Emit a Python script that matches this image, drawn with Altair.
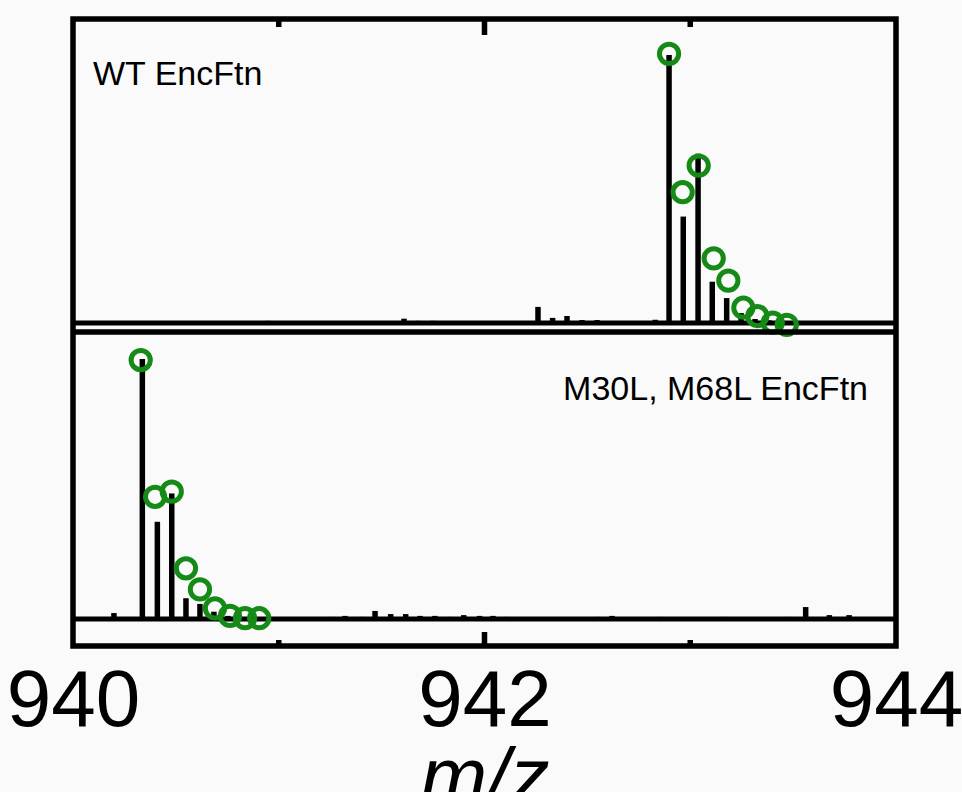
import altair as alt
import pandas as pd

# ---------------- data ----------------
MZ_MIN, MZ_MAX = 940.0, 944.0
label_values = [940, 942, 944]
major_ticks = [942]
minor_ticks = [941, 943]

wt_label = "WT EncFtn"
mut_label = "M30L, M68L EncFtn"
axis_title = "m/z"

# WT EncFtn spectrum (relative intensity, %)
wt_mz = [940.10, 940.25, 940.40, 940.55, 940.70, 940.948, 941.10, 941.25, 941.40,
         941.609, 941.677, 941.750, 941.85, 941.95, 942.05, 942.15, 942.260, 942.331,
         942.401, 942.474, 942.547, 942.624, 942.697, 942.77, 942.83,
         942.897, 942.966, 943.038, 943.107, 943.177, 943.247, 943.315, 943.383,
         943.45, 943.55, 943.65, 943.75, 943.85, 943.95]
wt_int = [0.5, 0.5, 0.6, 0.5, 0.6, 0.8, 0.5, 0.6, 0.5,
          1.6, 0.8, 0.8, 0.5, 0.5, 0.5, 0.6, 6.0, 1.9,
          2.6, 1.1, 1.1, 0.7, 0.7, 0.6, 1.2,
          100.0, 39.7, 63.1, 15.4, 9.3, 3.7, 1.5, 1.0,
          0.7, 0.6, 0.6, 0.5, 0.6, 0.5]
# WT theoretical isotope distribution (circles)
wt_fit_mz = [942.897, 942.963, 943.041, 943.114, 943.185, 943.258, 943.326, 943.401, 943.469]
wt_fit_int = [100.4, 48.8, 58.7, 24.1, 15.8, 5.7, 2.6, 0.1, -0.7]

# M30L, M68L EncFtn spectrum (relative intensity, %)
mut_mz = [940.05, 940.199, 940.25, 940.337, 940.410, 940.480, 940.549, 940.617, 940.685,
          940.753, 940.82, 940.90, 941.00, 941.10, 941.20, 941.26, 941.322, 941.400,
          941.468, 941.544, 941.617, 941.687, 941.759, 941.83, 941.899, 941.976,
          942.041, 942.109, 942.18, 942.25, 942.33, 942.40, 942.47, 942.55, 942.620,
          942.69, 942.77, 942.85, 942.93, 943.00, 943.08, 943.16, 943.24, 943.32,
          943.40, 943.48, 943.561, 943.676, 943.772, 943.86, 943.95]
mut_int = [0.5, 2.3, 0.6, 100.0, 37.4, 48.3, 8.0, 5.8, 2.8,
           1.2, 0.6, 0.5, 0.5, 0.6, 0.5, 0.8, 1.2, 0.8,
           3.1, 1.9, 1.9, 1.2, 1.2, 0.8, 1.5, 1.2,
           1.2, 0.8, 0.6, 0.6, 0.6, 0.6, 0.6, 0.8, 1.2,
           0.6, 0.6, 0.8, 0.6, 0.6, 0.6, 0.8, 0.6, 0.6,
           0.6, 0.8, 4.6, 1.5, 1.5, 0.6, 0.5]
mut_fit_mz = [940.329, 940.399, 940.480, 940.549, 940.617, 940.690, 940.763, 940.836, 940.905]
mut_fit_int = [99.6, 47.0, 49.0, 19.5, 11.4, 4.1, 1.2, 0.3, 0.3]

# ---------------- layout / style ----------------
W, H = 823, 627          # whole framed area (both panels)
TOP_H = 313              # height of the upper panel
FONT = "Liberation Sans"
GREEN = "#168a16"
BG = "#fafafa"
LINE_W = 5.5
BASE_W = 5
FRAME_W = 5.5

xs = alt.Scale(domain=[MZ_MIN, MZ_MAX], nice=False, zero=False)
xaxis = alt.Axis(
    values=label_values, format="d", title=axis_title,
    ticks=False, tickSize=0, domain=False, grid=False,
    labelFontSize=80, labelFont=FONT, labelColor="black", labelPadding=16,
    labelFlush=False, labelOverlap=False, labelBaseline="top",
    titleFontSize=80, titleFont=FONT, titleFontStyle="italic",
    titleFontWeight="normal", titleColor="black",
    titleBaseline="alphabetic", titleY=157,
)
ys_top = alt.Scale(domain=[-3.36, 113.4], range=[TOP_H, 0], nice=False, zero=False)
ys_bot = alt.Scale(domain=[-10.38, 110.4], range=[H, TOP_H], nice=False, zero=False)

wt_df = pd.DataFrame({"mz": wt_mz, "intensity": wt_int})
wt_fit_df = pd.DataFrame({"mz": wt_fit_mz, "intensity": wt_fit_int})
mut_df = pd.DataFrame({"mz": mut_mz, "intensity": mut_int})
mut_fit_df = pd.DataFrame({"mz": mut_fit_mz, "intensity": mut_fit_int})
one = alt.Data(values=[{}])


def panel(df, fit_df, ys, label, label_x, label_y, align):
    base = alt.Chart(one).mark_rule(color="black", strokeWidth=BASE_W).encode(
        x=alt.X(datum=MZ_MIN, type="quantitative", scale=xs, axis=xaxis),
        x2=alt.X2(datum=MZ_MAX),
        y=alt.Y(datum=0, type="quantitative", scale=ys, axis=None),
    )
    sticks = alt.Chart(df).mark_rule(color="black", strokeWidth=LINE_W).encode(
        x=alt.X("mz:Q", scale=xs, axis=xaxis),
        y=alt.Y("intensity:Q", scale=ys, axis=None),
        y2=alt.Y2(datum=0),
    )
    circles = alt.Chart(fit_df).mark_point(
        shape="circle", filled=False, color=GREEN, strokeWidth=5, size=370, opacity=1
    ).encode(
        x=alt.X("mz:Q", scale=xs, axis=xaxis),
        y=alt.Y("intensity:Q", scale=ys, axis=None),
    )
    text = alt.Chart(alt.Data(values=[{"t": label}])).mark_text(
        align=align, baseline="alphabetic", fontSize=34, font=FONT, color="black"
    ).encode(x=alt.value(label_x), y=alt.value(label_y), text="t:N")
    return alt.layer(base, sticks, circles, text)


top = panel(wt_df, wt_fit_df, ys_top, wt_label, 20, 66, "left")
bottom = panel(mut_df, mut_fit_df, ys_bot, mut_label, 795, 381, "right")


def ticks(values, y0, y1):
    return alt.Chart(pd.DataFrame({"mz": values})).mark_rule(
        color="black", strokeWidth=FRAME_W
    ).encode(
        x=alt.X("mz:Q", scale=xs, axis=xaxis),
        y=alt.value(y0), y2=alt.value(y1),
    )


tick_layers = [
    ticks(major_ticks, 0, 16), ticks(minor_ticks, 0, 8),
    ticks(major_ticks, H, H - 14), ticks(minor_ticks, H, H - 6),
]

divider = alt.Chart(one).mark_rule(color="black", strokeWidth=FRAME_W).encode(
    x=alt.value(0), x2=alt.value(W), y=alt.value(TOP_H)
)

chart = alt.layer(top, bottom, *tick_layers, divider).resolve_scale(
    y="independent"
).properties(
    width=W, height=H,
    autosize=alt.AutoSizeParams(type="none"),
    padding={"left": 73, "top": 19, "right": 962 - 73 - W, "bottom": 792 - 19 - H},
    background=BG,
).configure_view(stroke="black", strokeWidth=FRAME_W)

chart.save("out.html", embed_options={"renderer": "svg", "actions": False})
